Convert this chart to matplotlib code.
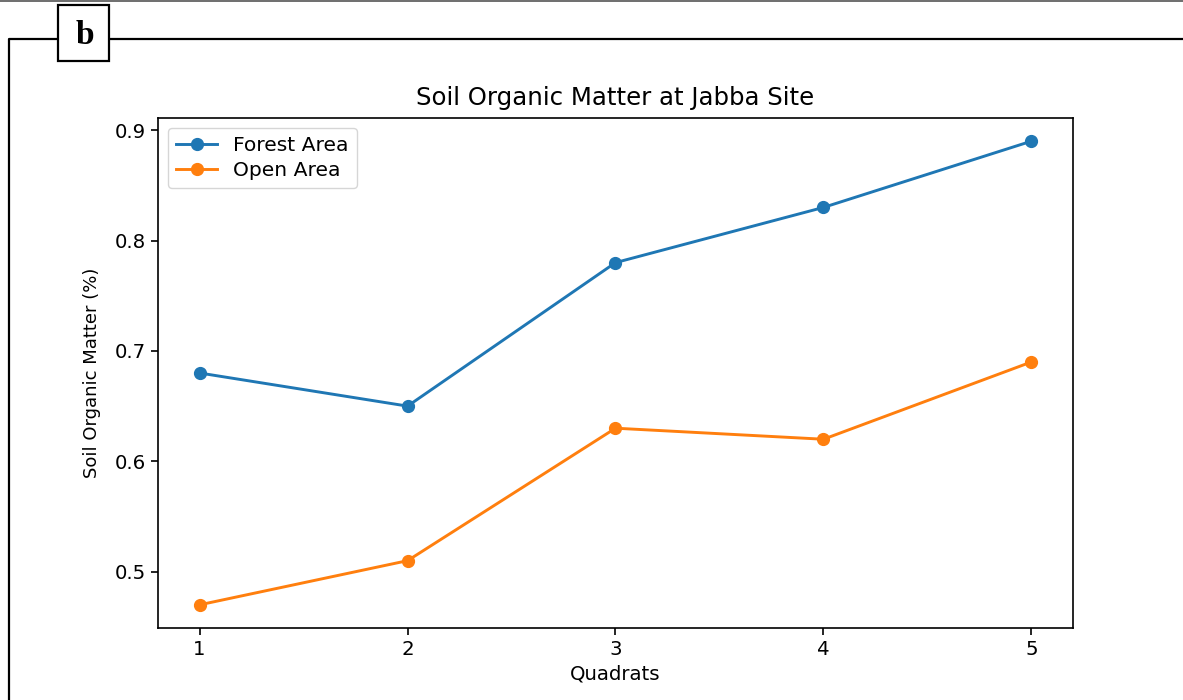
import matplotlib.pyplot as plt
from matplotlib.lines import Line2D
from matplotlib.patches import Rectangle

quadrats = [1, 2, 3, 4, 5]
forest_area = [0.68, 0.65, 0.78, 0.83, 0.89]
open_area = [0.47, 0.51, 0.63, 0.62, 0.69]

FS = 14.2

fig = plt.figure(figsize=(11.83, 7.0), dpi=100)

# panel frame with the "b" tag
fig.add_artist(Line2D([0, 1], [0.999, 0.999], transform=fig.transFigure, color='#555555', lw=1.2))
fig.add_artist(Line2D([8.5 / 1183, 8.5 / 1183, 1.0], [0.0, 1 - 38.5 / 700, 1 - 38.5 / 700],
                      transform=fig.transFigure, color='black', lw=1.6))
fig.add_artist(Rectangle((58 / 1183, 1 - 61 / 700), 51 / 1183, 56 / 700, transform=fig.transFigure,
                         facecolor='white', edgecolor='black', lw=1.6, zorder=5))
fig.text(85 / 1183, 1 - 35 / 700, 'b', family='Liberation Serif', weight='bold', fontsize=24,
         ha='center', va='center', zorder=6)

ax = fig.add_axes([158 / 1183, 72 / 700, 915 / 1183, 510 / 700])
ax.plot(quadrats, forest_area, marker='o', color='#1f77b4', lw=2.1, ms=8.5, label='Forest Area')
ax.plot(quadrats, open_area, marker='o', color='#ff7f0e', lw=2.1, ms=8.5, label='Open Area')
ax.set_xticks(quadrats)
ax.set_yticks([0.5, 0.6, 0.7, 0.8, 0.9])
ax.tick_params(labelsize=FS, length=5, width=1.2)
for s in ax.spines.values():
    s.set_linewidth(1.2)
ax.set_title('Soil Organic Matter at Jabba Site', fontsize=17.6, pad=9)
ax.set_xlabel('Quadrats', fontsize=FS)
ax.set_ylabel('Soil Organic Matter (%)', fontsize=13.0, labelpad=10)
ax.legend(loc='upper left', fontsize=14.6, labelspacing=0.3, borderaxespad=0.5)

plt.savefig('out.png', dpi=100)
